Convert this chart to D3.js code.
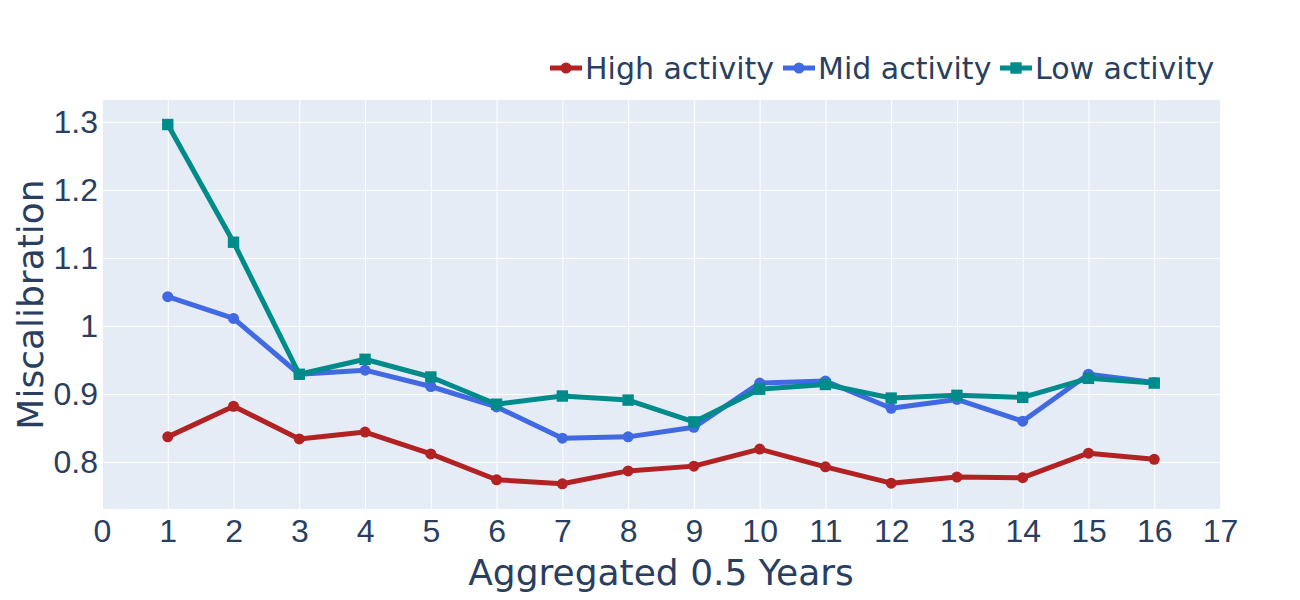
<!DOCTYPE html>
<html>
<head>
<meta charset="utf-8">
<script src="https://cdn.jsdelivr.net/npm/d3@7"></script>
<style>
  body { margin: 0; background: #fff; }
  svg { font-family: Verdana, "DejaVu Sans", sans-serif; }
  .grid line { stroke: #fff; stroke-width: 1; }
  .grid path { display: none; }
  .tick text { fill: #2a3f5f; font-size: 32px; }
  .title { fill: #2a3f5f; }
</style>
</head>
<body>
<svg class="plot"></svg>
<script>
// chart values
const periods = [1, 2, 3, 4, 5, 6, 7, 8, 9, 10, 11, 12, 13, 14, 15, 16]
const high = [0.837, 0.882, 0.834, 0.844, 0.812, 0.774, 0.768, 0.787, 0.794, 0.819, 0.793, 0.769, 0.778, 0.777, 0.813, 0.804]
const mid = [1.043, 1.011, 0.929, 0.935, 0.911, 0.881, 0.835, 0.837, 0.851, 0.916, 0.919, 0.879, 0.892, 0.860, 0.929, 0.917]
const low = [1.296, 1.123, 0.929, 0.951, 0.925, 0.885, 0.897, 0.891, 0.859, 0.907, 0.914, 0.894, 0.898, 0.895, 0.923, 0.916]
const xTicks = d3.range(0, 18)
const yTicks = [0.8, 0.9, 1, 1.1, 1.2, 1.3]

const series = [
  { name: 'High activity', values: high, color: '#b22222', symbol: 'circle' },
  { name: 'Mid activity', values: mid, color: '#4169e1', symbol: 'circle' },
  { name: 'Low activity', values: low, color: '#008b8b', symbol: 'square' },
]

const margin = { top: 100, left: 102, right: 80, bottom: 91 }
const dimen = { width: 1300 - margin.left - margin.right, height: 600 - margin.top - margin.bottom }

const xScale = d3.scaleLinear()
  .domain([0, 17])
  .range([0, dimen.width])
const yScale = d3.scaleLinear()
  .domain([0.731, 1.332])
  .range([dimen.height, 0])

const svg = d3.select('.plot')
    .attr('width', 1300)
    .attr('height', 600)

const canvas = svg.append('g')
    .attr('transform', `translate(${margin.left}, ${margin.top})`)

// plot background
canvas.append('rect')
    .attr('width', dimen.width)
    .attr('height', dimen.height)
    .attr('fill', '#e5ecf6')

// Draw Grid / Axes
// ================
canvas.append('g')
    .attr('class', 'grid')
    .attr('transform', `translate(0, ${dimen.height})`)
    .call(d3.axisBottom(xScale).tickValues(xTicks).tickFormat(d3.format('d'))
      .tickSize(-dimen.height).tickPadding(10))
canvas.append('g')
    .attr('class', 'grid')
    .call(d3.axisLeft(yScale).tickValues(yTicks).tickFormat(d => d3.format('')(d))
      .tickSize(-dimen.width).tickPadding(4))
canvas.selectAll('.grid .tick text').attr('fill', '#2a3f5f')

// Draw Lines
// ==========
const line = d3.line()
  .x((d, i) => xScale(periods[i]))
  .y(d => yScale(d))

const sq = d3.symbol().type(d3.symbolSquare).size(130)

series.forEach(s => {
  const g = canvas.append('g')
  g.append('path')
      .attr('d', line(s.values))
      .attr('fill', 'none')
      .attr('stroke', s.color)
      .attr('stroke-width', 5)
      .attr('stroke-linejoin', 'round')
  if (s.symbol === 'circle') {
    g.selectAll('circle')
        .data(s.values)
      .enter().append('circle')
        .attr('cx', (d, i) => xScale(periods[i]))
        .attr('cy', d => yScale(d))
        .attr('r', 5.5)
        .attr('fill', s.color)
  } else {
    g.selectAll('path.m')
        .data(s.values)
      .enter().append('path')
        .attr('class', 'm')
        .attr('transform', (d, i) => `translate(${xScale(periods[i])}, ${yScale(d)})`)
        .attr('d', sq)
        .attr('fill', s.color)
  }
})

// Axis titles
// ===========
svg.append('text')
    .attr('class', 'title')
    .attr('x', margin.left + dimen.width / 2)
    .attr('y', 585)
    .attr('text-anchor', 'middle')
    .attr('font-size', 36)
    .text('Aggregated 0.5 Years')
svg.append('text')
    .attr('class', 'title')
    .attr('transform', `translate(43, ${margin.top + dimen.height / 2}) rotate(-90)`)
    .attr('text-anchor', 'middle')
    .attr('font-size', 36)
    .text('Miscalibration')

// Legend
// ======
const legendX = [550, 783, 1000]
const legend = svg.append('g')
  .selectAll('g')
    .data(series)
  .enter().append('g')
    .attr('transform', (d, i) => `translate(${legendX[i]}, 68)`)
legend.append('line')
    .attr('x1', 0).attr('x2', 32)
    .attr('stroke', d => d.color)
    .attr('stroke-width', 5)
legend.each(function (d) {
  const g = d3.select(this)
  if (d.symbol === 'circle') {
    g.append('circle').attr('cx', 16).attr('r', 5.5).attr('fill', d.color)
  } else {
    g.append('path').attr('transform', 'translate(16, 0)').attr('d', sq).attr('fill', d.color)
  }
})
legend.append('text')
    .attr('class', 'title')
    .attr('x', 35)
    .attr('dy', '0.35em')
    .attr('font-size', 30)
    .text(d => d.name)
</script>
</body>
</html>
